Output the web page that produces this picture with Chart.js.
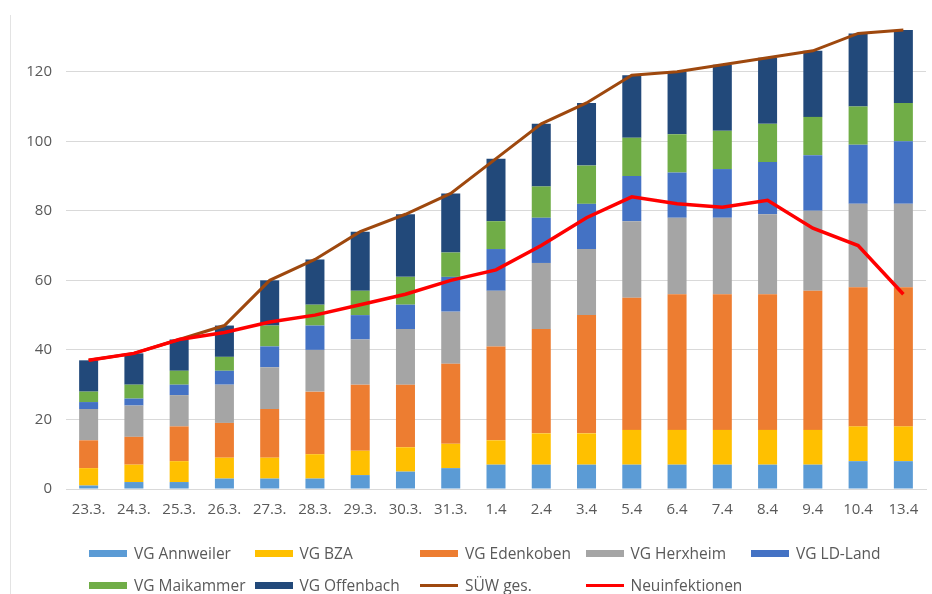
<!DOCTYPE html>
<html>
<head>
<meta charset="utf-8">
<script src="https://cdn.jsdelivr.net/npm/chart.js@4"></script>
<style>
  html, body { margin:0; padding:0; background:#fff; }
  body { width:932px; height:594px; position:relative; overflow:hidden; font-family:'Open Sans', sans-serif; }
  #wrap { position:absolute; left:0; top:0; width:932px; height:530px; }
  #edge { position:absolute; left:10px; top:15px; bottom:0; border-left:1px solid #e3e3e3; }
  #legend { position:absolute; left:0; top:0; width:932px; height:594px; pointer-events:none; }
  .lg { position:absolute; height:20px; display:flex; align-items:center; color:#595959; font-size:15.5px; white-space:nowrap; }
  .lg i { display:inline-block; width:38px; margin-right:7px; }
</style>
</head>
<body>
<div id="edge"></div>
<div id="wrap"><canvas id="chartCorona"></canvas></div>
<div id="legend"></div>
<script>
// Tage
const tage = ['23.3.','24.3.','25.3.','26.3.','27.3.','28.3.','29.3.','30.3.','31.3.','1.4','2.4','3.4','5.4','6.4','7.4','8.4','9.4','10.4','13.4'];

// Fälle je Verbandsgemeinde (gestapelt)
const annweiler = [1,2,2,3,3,3,4,5,6,7,7,7,7,7,7,7,7,8,8];
const bza       = [5,5,6,6,6,7,7,7,7,7,9,9,10,10,10,10,10,10,10];
const edenkoben = [8,8,10,10,14,18,19,18,23,27,30,34,38,39,39,39,40,40,40];
const herxheim  = [9,9,9,11,12,12,13,16,15,16,19,19,22,22,22,23,23,24,24];
const ldLand    = [2,2,3,4,6,7,7,7,10,12,13,13,13,13,14,15,16,17,18];
const maikammer = [3,4,4,4,6,6,7,8,7,8,9,11,11,11,11,11,11,11,11];
const offenbach = [9,9,9,9,13,13,17,18,17,18,18,18,18,18,19,19,19,21,21];

// Linien
const suewGes  = [37,39,43,47,60,66,74,79,85,95,105,111,119,120,122,124,126,131,132];
const neuInf   = [37,39,43,45,48,50,53,56,60,63,70,78,84,82,81,83,75,70,56];

const yTicks = [0,20,40,60,80,100,120];

const bar = (label, data, color) => ({
  type:'bar', label, data, backgroundColor:color, stack:'vg', order:2,
  barPercentage:0.42, categoryPercentage:1
});
const line = (label, data, color, width, order) => ({
  type:'line', label, data, borderColor:color, backgroundColor:color, borderWidth:width,
  pointRadius:0, tension:0, stack:label, order, clip:false, fill:false
});

const datasets = [
  bar('VG Annweiler', annweiler, '#5B9BD5'),
  bar('VG BZA', bza, '#FFC000'),
  bar('VG Edenkoben', edenkoben, '#ED7D31'),
  bar('VG Herxheim', herxheim, '#A5A5A5'),
  bar('VG LD-Land', ldLand, '#4472C4'),
  bar('VG Maikammer', maikammer, '#70AD47'),
  bar('VG Offenbach', offenbach, '#22497A'),
  line('SÜW ges.', suewGes, '#9E480E', 3, 1),
  line('Neuinfektionen', neuInf, '#FF0000', 3.5, 0),
];

const canvas = document.getElementById('chartCorona');
canvas.width = 932; canvas.height = 530;

const chart = new Chart(canvas, {
  data:{ labels:tage, datasets },
  options:{
    responsive:false, animation:false,
    layout:{ padding:{ top:20, right:6, bottom:0, left:0 } },
    plugins:{ legend:{ display:false }, tooltip:{ enabled:false } },
    scales:{
      x:{
        stacked:true,
        grid:{ display:false, drawTicks:false },
        border:{ display:true, color:'#d9d9d9', width:1 },
        ticks:{ color:'#595959', font:{ family:'Open Sans', size:15 }, padding:12, maxRotation:0, autoSkip:false },
        afterFit(s){ s.height = 41; }
      },
      y:{
        stacked:true, min:0, max:134,
        afterBuildTicks(s){ s.ticks = yTicks.map(v => ({ value:v })); },
        afterFit(s){ s.width = 66; },
        grid:{ color:'#d9d9d9', lineWidth:1, drawTicks:false },
        border:{ display:false },
        ticks:{ color:'#595959', font:{ family:'Open Sans', size:15 }, padding:14 }
      }
    }
  }
});

// Legende wie im Original (zwei Zeilen, feste Spalten)
const lg = document.getElementById('legend');
chart.data.datasets.forEach((ds, i) => {
  const row = i < 5 ? 0 : 1, col = i < 5 ? i : i - 5;
  const el = document.createElement('div');
  el.className = 'lg';
  el.style.left = (89 + col * 165.5) + 'px';
  el.style.top = (row === 0 ? 543 : 575) + 'px';
  const sw = document.createElement('i');
  sw.style.background = ds.type === 'line' ? ds.borderColor : ds.backgroundColor;
  sw.style.height = ds.type === 'line' ? '3px' : '7px';
  el.append(sw, document.createTextNode(ds.label));
  lg.appendChild(el);
});
</script>
</body>
</html>
